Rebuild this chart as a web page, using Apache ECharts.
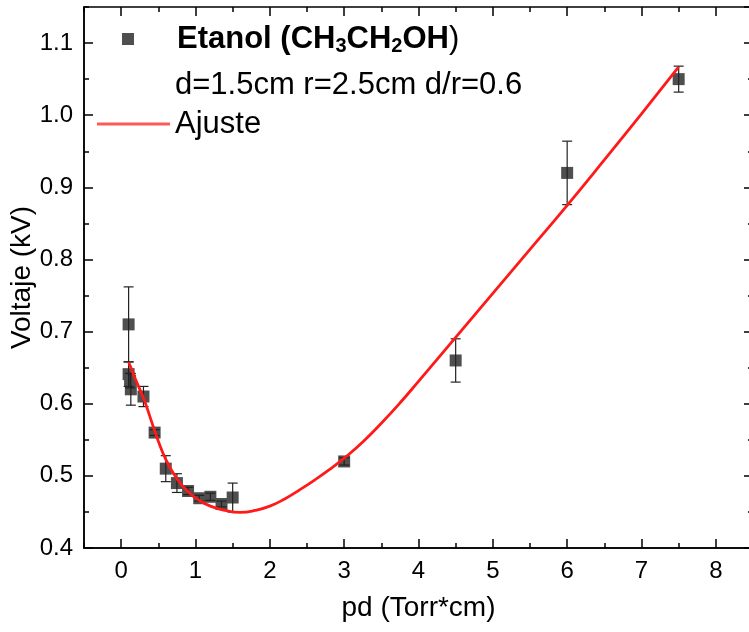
<!DOCTYPE html>
<html>
<head>
<meta charset="utf-8">
<script src="https://cdn.jsdelivr.net/npm/echarts@6/dist/echarts.min.js"></script>
<style>html,body{margin:0;padding:0;background:#fff}#c{width:749px;height:632px}</style>
</head>
<body>
<div id="c"></div>
<script>
// Measured data (pd in Torr*cm, voltage in kV, error in kV)
var pdData   = [0.1, 0.1, 0.12, 0.13, 0.3, 0.45, 0.6, 0.75, 0.9, 1.05, 1.2, 1.35, 1.5, 3.0, 4.5, 6.0, 7.5];
var voltData = [0.71, 0.641, 0.632, 0.62, 0.61, 0.56, 0.51, 0.49, 0.479, 0.469, 0.471, 0.461, 0.47, 0.52, 0.66, 0.92, 1.05];
var errData  = [0.052, 0.017, 0.01, 0.022, 0.014, 0.004, 0.018, 0.013, 0.005, 0.004, 0.005, 0.004, 0.02, 0.005, 0.03, 0.044, 0.018];
// Fit curve
var fitX = [0.1, 0.15, 0.2, 0.3, 0.4, 0.5, 0.6, 0.75, 0.9, 1.05, 1.2, 1.4, 1.6, 1.8, 2.0, 2.2, 2.4, 2.6, 2.8, 3.0, 3.25, 3.5, 3.75, 4.0, 4.5, 5.0, 5.5, 6.0, 6.5, 7.0, 7.5];
var fitY = [0.658, 0.645, 0.632, 0.608, 0.578, 0.548, 0.523, 0.496, 0.478, 0.466, 0.458, 0.452, 0.4495, 0.452, 0.458, 0.468, 0.4805, 0.494, 0.5085, 0.5245, 0.547, 0.573, 0.601, 0.631, 0.692, 0.753, 0.814, 0.875, 0.938, 1.002, 1.067];
var xTicks = [0, 1, 2, 3, 4, 5, 6, 7, 8];

var FONT = 'Liberation Sans, Arial, sans-serif';
var scatterData = pdData.map(function (x, i) { return [x, voltData[i]]; });
var errorData = pdData.map(function (x, i) { return [x, voltData[i], errData[i]]; });
var fitData = fitX.map(function (x, i) { return [x, fitY[i]]; });

var chart = echarts.init(document.getElementById('c'), null, {renderer: 'canvas'});

function baseX(extra) {
  return Object.assign({
    type: 'value', min: -0.5, max: 8.5, gridIndex: 0,
    splitLine: {show: false},
    axisLine: {show: false, onZero: false},
    axisLabel: {show: false},
    axisTick: {show: false}
  }, extra);
}
function baseY(extra) {
  return Object.assign({
    type: 'value', min: 0.4, max: 1.15, gridIndex: 0,
    splitLine: {show: false},
    axisLine: {show: false, onZero: false},
    axisLabel: {show: false},
    axisTick: {show: false}
  }, extra);
}
var tickStyle = {color: '#000', width: 1.5};

var option = {
  backgroundColor: '#fff',
  animation: false,
  grid: {left: 84, right: -4, top: 7, bottom: 84, containLabel: false, outerBoundsMode: 'none',
         show: true, borderColor: '#000', borderWidth: 1.5, backgroundColor: 'transparent'},
  xAxis: [
    baseX({position: 'bottom',
      name: 'pd (Torr*cm)', nameLocation: 'middle', nameGap: 46, nameMoveOverlap: false,
      nameTextStyle: {fontFamily: FONT, fontSize: 28, color: '#000'},
      axisLine: {show: true, onZero: false, lineStyle: tickStyle},
      axisTick: {show: true, inside: true, length: 9, customValues: xTicks, lineStyle: tickStyle},
      axisLabel: {show: true, customValues: xTicks, margin: 11, fontFamily: FONT, fontSize: 24, color: '#000'}
    }),
    baseX({position: 'bottom', interval: 0.5,
      axisTick: {show: true, inside: true, length: 5, lineStyle: tickStyle}}),
    baseX({position: 'top',
      axisTick: {show: true, inside: true, length: 9, customValues: xTicks, lineStyle: tickStyle}}),
    baseX({position: 'top', interval: 0.5,
      axisTick: {show: true, inside: true, length: 5, lineStyle: tickStyle}})
  ],
  yAxis: [
    baseY({position: 'left', interval: 0.1,
      name: 'Voltaje (kV)', nameLocation: 'middle', nameGap: 48, nameRotate: 90, nameMoveOverlap: false,
      nameTextStyle: {fontFamily: FONT, fontSize: 28, color: '#000'},
      axisLine: {show: true, onZero: false, lineStyle: tickStyle},
      axisTick: {show: true, inside: true, length: 9, lineStyle: tickStyle},
      axisLabel: {show: true, margin: 11, fontFamily: FONT, fontSize: 24, color: '#000',
        showMaxLabel: false,
        formatter: function (v) { return v.toFixed(1); }}
    }),
    baseY({position: 'left', interval: 0.05,
      axisTick: {show: true, inside: true, length: 5, lineStyle: tickStyle}}),
    baseY({position: 'right', interval: 0.1,
      axisTick: {show: true, inside: true, length: 9, lineStyle: tickStyle}}),
    baseY({position: 'right', interval: 0.05,
      axisTick: {show: true, inside: true, length: 5, lineStyle: tickStyle}})
  ],
  legend: [
    {
      data: [{name: 'Etanol', icon: 'rect'}],
      left: 122, top: 23, padding: 0, itemWidth: 12, itemHeight: 12,
      selectedMode: false,
      formatter: function () {
        return '{pad|}{b|Etanol (CH}{s|3}{b|CH}{s|2}{b|OH}{n|)}';
      },
      textStyle: {
        fontFamily: FONT, fontSize: 31, color: '#000',
        rich: {
          pad: {width: 38},
          b: {fontFamily: FONT, fontSize: 31, fontWeight: 'bold', color: '#000', lineHeight: 34},
          n: {fontFamily: FONT, fontSize: 31, color: '#000', lineHeight: 34},
          s: {fontFamily: FONT, fontSize: 20, fontWeight: 'bold', color: '#000', lineHeight: 34, verticalAlign: 'bottom', padding: [13, 0, 0, 0]}
        }
      }
    },
    {
      data: [{name: 'Ajuste', icon: 'rect'}],
      left: 97, top: 108, padding: 0, itemWidth: 73, itemHeight: 3,
      selectedMode: false,
      textStyle: {fontFamily: FONT, fontSize: 31, color: '#000', lineHeight: 32}
    }
  ],
  graphic: [
    {type: 'text', left: 175, top: 70, silent: true,
     style: {text: 'd=1.5cm r=2.5cm d/r=0.6', fontFamily: FONT, fontSize: 31, fill: '#000'}}
  ],
  series: [
    {
      name: 'Etanol', type: 'scatter', xAxisIndex: 0, yAxisIndex: 0,
      symbol: 'rect', symbolSize: 12, data: scatterData,
      itemStyle: {color: '#4f4f4f', opacity: 1}, z: 2
    },
    {
      name: 'err', type: 'custom', xAxisIndex: 0, yAxisIndex: 0, data: errorData, z: 3,
      renderItem: function (params, api) {
        var x = api.value(0), y = api.value(1), e = api.value(2);
        var t = api.coord([x, y + e]), b = api.coord([x, y - e]);
        var hw = 5;
        var st = {stroke: '#222', lineWidth: 1.2};
        return {type: 'group', children: [
          {type: 'line', shape: {x1: t[0], y1: t[1], x2: b[0], y2: b[1]}, style: st},
          {type: 'line', shape: {x1: t[0] - hw, y1: t[1], x2: t[0] + hw, y2: t[1]}, style: st},
          {type: 'line', shape: {x1: b[0] - hw, y1: b[1], x2: b[0] + hw, y2: b[1]}, style: st}
        ]};
      }
    },
    {
      name: 'Ajuste', type: 'line', xAxisIndex: 0, yAxisIndex: 0, data: fitData,
      smooth: 0.5, showSymbol: false, symbol: 'none', z: 4,
      lineStyle: {color: '#ff1a1a', width: 2.8},
      itemStyle: {color: '#ff5a5a'}
    }
  ]
};
chart.setOption(option);
</script>
</body>
</html>
